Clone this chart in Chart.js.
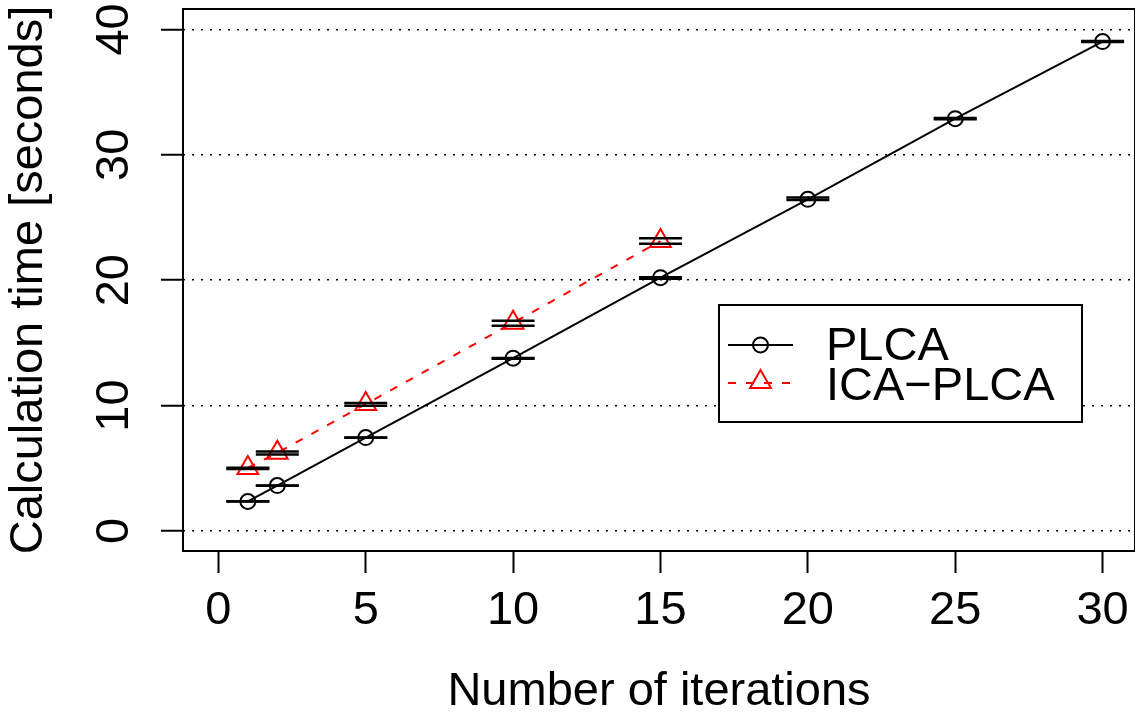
<!DOCTYPE html>
<html>
<head>
<meta charset="utf-8">
<script src="https://cdn.jsdelivr.net/npm/chart.js@4/dist/chart.umd.min.js"></script>
<style>
  html, body { margin: 0; padding: 0; background: #fff; overflow: hidden; }
  #grafico { display: block; }
</style>
</head>
<body>
<canvas id="grafico" width="1135" height="718"></canvas>
<script>
// datos
let iteraciones = [1, 2, 5, 10, 15, 20, 25, 30]
let plcaTiempo = [2.35, 3.62, 7.45, 13.78, 20.2, 26.45, 32.88, 39.03]
let plcaMin = [2.35, 3.61, 7.43, 13.74, 20.12, 26.4, 32.84, 38.99]
let plcaMax = [2.36, 3.63, 7.46, 13.8, 20.24, 26.6, 32.94, 39.08]

let icaIteraciones = [1, 2, 5, 10, 15]
let icaTiempo = [5.03, 6.23, 10.12, 16.6, 23.12]
let icaMin = [4.95, 6.1, 9.98, 16.36, 22.9]
let icaMax = [5.05, 6.34, 10.2, 16.76, 23.34]

let ticksX = [0, 5, 10, 15, 20, 25, 30]
let ticksY = [0, 10, 20, 30, 40]

let etiquetas = ['PLCA', 'ICA\u2212PLCA']

function puntos(xs, ys){
  return xs.map((x, i) => ({x: x, y: ys[i]}))
}

function barras(xs, ys){
  return {
    data: puntos(xs, ys),
    showLine: false,
    pointStyle: 'line',
    pointRadius: 21.5,
    pointBorderWidth: 2.5,
    pointBorderColor: '#000',
    pointBackgroundColor: '#000'
  }
}

Chart.defaults.font.family = "'Liberation Sans', Arial, sans-serif"
Chart.defaults.color = '#000'

// caja alrededor del area del grafico
const caja = {
  id: 'caja',
  afterDraw(chart){
    const a = chart.chartArea
    const ctx = chart.ctx
    ctx.save()
    ctx.strokeStyle = '#000'
    ctx.lineWidth = 2
    ctx.strokeRect(a.left, a.top, a.right - a.left, a.bottom - a.top)
    ctx.restore()
  }
}

// leyenda dentro del grafico, como la de R
const leyenda = {
  id: 'leyenda',
  afterDraw(chart){
    const ctx = chart.ctx
    let x0 = 719, y0 = 305, ancho = 363, alto = 117
    ctx.save()
    ctx.fillStyle = '#fff'
    ctx.fillRect(x0, y0, ancho, alto)
    ctx.strokeStyle = '#000'
    ctx.lineWidth = 2
    ctx.strokeRect(x0, y0, ancho, alto)

    // PLCA
    ctx.lineWidth = 2
    ctx.strokeStyle = '#000'
    ctx.beginPath()
    ctx.moveTo(728, 345)
    ctx.lineTo(793, 345)
    ctx.stroke()
    ctx.beginPath()
    ctx.arc(760.5, 345, 7.5, 0, Math.PI * 2)
    ctx.stroke()

    // ICA-PLCA
    ctx.strokeStyle = '#ff0000'
    ctx.setLineDash([8, 10])
    ctx.beginPath()
    ctx.moveTo(728, 383)
    ctx.lineTo(793, 383)
    ctx.stroke()
    ctx.setLineDash([])
    let r = 12
    ctx.beginPath()
    ctx.moveTo(760.5, 382 - r)
    ctx.lineTo(760.5 + r * 0.866, 382 + r / 2)
    ctx.lineTo(760.5 - r * 0.866, 382 + r / 2)
    ctx.closePath()
    ctx.stroke()

    ctx.fillStyle = '#000'
    ctx.font = "47px 'Liberation Sans', Arial, sans-serif"
    ctx.textBaseline = 'alphabetic'
    ctx.textAlign = 'left'
    ctx.fillText(etiquetas[0], 826, 360)
    ctx.fillText(etiquetas[1], 826, 400)
    ctx.restore()
  }
}

let grafico = document.getElementById('grafico').getContext('2d')

new Chart(grafico, {
  type: 'scatter',
  data: {
    datasets: [
      barras(icaIteraciones, icaMin),
      barras(icaIteraciones, icaMax),
      barras(iteraciones, plcaMin),
      barras(iteraciones, plcaMax),
      {
        label: etiquetas[0],
        data: puntos(iteraciones, plcaTiempo),
        showLine: true,
        borderColor: '#000',
        borderWidth: 2,
        pointStyle: 'circle',
        pointRadius: 7.5,
        pointBorderWidth: 2,
        pointBorderColor: '#000',
        pointBackgroundColor: 'rgba(0,0,0,0)'
      },
      {
        label: etiquetas[1],
        data: puntos(icaIteraciones, icaTiempo),
        showLine: true,
        borderColor: '#ff0000',
        borderWidth: 2,
        borderDash: [8, 10],
        pointStyle: 'triangle',
        pointRadius: 12,
        pointBorderWidth: 2,
        pointBorderColor: '#ff0000',
        pointBackgroundColor: 'rgba(0,0,0,0)'
      }
    ]
  },
  options: {
    responsive: false,
    devicePixelRatio: 1,
    animation: false,
    layout: { autoPadding: false, padding: { top: 9, left: 0, right: 0, bottom: 0 } },
    plugins: {
      legend: { display: false },
      tooltip: { enabled: false }
    },
    scales: {
      x: {
        type: 'linear',
        min: -1.2,
        max: 31.1,
        afterBuildTicks: (s) => { s.ticks = ticksX.map(v => ({value: v})) },
        afterFit: (s) => { s.height = 167; s.paddingLeft = 0; s.paddingRight = 0 },
        ticks: {
          autoSkip: false,
          maxRotation: 0,
          padding: 10,
          font: { size: 47 },
          callback: (v) => String(v)
        },
        grid: {
          drawOnChartArea: false,
          drawTicks: true,
          tickLength: 22,
          tickWidth: 2,
          tickColor: '#000',
          color: '#000'
        },
        border: { display: false },
        title: {
          display: true,
          text: 'Number of iterations',
          font: { size: 47, lineHeight: 1 },
          padding: { top: 0, bottom: 2 }
        }
      },
      y: {
        type: 'linear',
        min: -1.6,
        max: 41.63,
        afterBuildTicks: (s) => { s.ticks = ticksY.map(v => ({value: v})) },
        afterFit: (s) => { s.width = 183; s.paddingTop = 0; s.paddingBottom = 0 },
        ticks: {
          autoSkip: false,
          minRotation: 90,
          maxRotation: 90,
          crossAlign: 'center',
          padding: 20,
          font: { size: 47 },
          callback: (v) => String(v)
        },
        grid: {
          drawOnChartArea: true,
          drawTicks: true,
          tickLength: 22,
          tickWidth: 2,
          tickColor: '#000',
          tickBorderDash: [],
          color: '#000',
          lineWidth: 1.5
        },
        border: { display: false, dash: [2, 7] },
        title: {
          display: true,
          text: 'Calculation time [seconds]',
          font: { size: 47, lineHeight: 1 },
          padding: { top: 6, bottom: 0 }
        }
      }
    }
  },
  plugins: [caja, leyenda]
})
</script>
</body>
</html>
